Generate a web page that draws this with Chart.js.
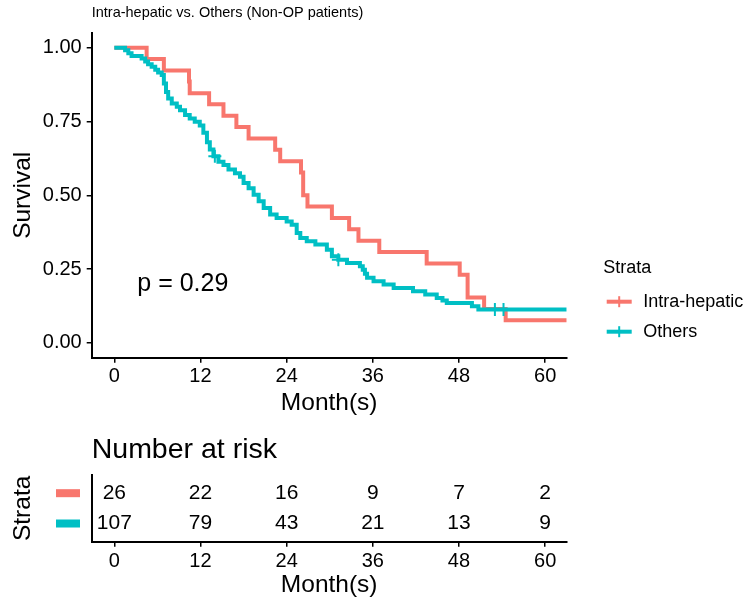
<!DOCTYPE html>
<html lang="en">
<head>
  <meta charset="UTF-8" />
  <title>Intra-hepatic vs. Others (Non-OP patients)</title>
  <style>
    html, body { margin: 0; padding: 0; background: #fff; }
    #wrap { position: relative; width: 750px; height: 606px; }
    #kmChart { position: absolute; left: 0; top: 0; }
    #riskChart { position: absolute; left: 0; top: 420px; }
  </style>
</head>
<body>
  <div id="wrap">
    <canvas id="kmChart" width="750" height="420" style="width:750px;height:420px"></canvas>
    <canvas id="riskChart" width="750" height="186" style="width:750px;height:186px"></canvas>
  </div>

  <script src="https://cdn.jsdelivr.net/npm/chart.js"></script>

  <script>
    const chartTitle = 'Intra-hepatic vs. Others (Non-OP patients)';
    const strataNames = ['Intra-hepatic', 'Others'];
    const strataColors = ['#F8766D', '#00BFC4'];

    const monthTicks = [0, 12, 24, 36, 48, 60];
    const survivalTicks = [0, 0.25, 0.5, 0.75, 1];

    // Kaplan-Meier steps (time in months, survival after the step)
    const intraTime = [0, 4.5, 6.9, 10.4, 10.5, 13.2, 15.2, 17.0, 18.7, 22.4, 23.1, 26.0, 26.3, 26.9, 30.3, 32.7, 34.0, 36.9, 43.5, 48.1, 49.2, 51.5, 54.5, 63];
    const intraSurv = [1, 0.962, 0.923, 0.885, 0.846, 0.808, 0.769, 0.731, 0.692, 0.654, 0.615, 0.577, 0.500, 0.462, 0.423, 0.385, 0.346, 0.308, 0.269, 0.231, 0.154, 0.115, 0.077, 0.077];

    const othersTime = [0, 1.5, 1.95, 2.4, 3.8, 4.3, 4.7, 5.2, 5.7, 6.1, 6.6, 6.9, 7.2, 7.5, 8.0, 8.7, 9.15, 9.85, 10.5, 11.2, 11.9, 12.4, 12.9, 13.3, 13.8, 14.5, 15.2, 15.9, 16.8, 17.5, 18.0, 18.7, 19.4, 20.1, 20.8, 21.7, 22.6, 24.0, 24.7, 25.4, 25.9, 26.8, 28.0, 29.6, 30.3, 31.2, 32.4, 34.2, 34.6, 34.9, 35.2, 36.1, 37.5, 38.9, 41.6, 43.3, 44.9, 45.7, 46.3, 49.8, 50.7, 63];
    const othersSurv = [1, 0.991, 0.981, 0.972, 0.963, 0.953, 0.944, 0.935, 0.925, 0.916, 0.907, 0.879, 0.850, 0.828, 0.811, 0.800, 0.788, 0.772, 0.760, 0.749, 0.736, 0.712, 0.680, 0.655, 0.632, 0.614, 0.603, 0.587, 0.575, 0.563, 0.542, 0.524, 0.502, 0.480, 0.457, 0.435, 0.423, 0.411, 0.400, 0.372, 0.355, 0.344, 0.333, 0.316, 0.294, 0.282, 0.271, 0.260, 0.248, 0.234, 0.221, 0.209, 0.198, 0.186, 0.175, 0.164, 0.152, 0.144, 0.135, 0.124, 0.113, 0.113];

    // censored observations (Others)
    const othersCensorTime = [14.0, 31.2, 53.0, 54.2];
    const othersCensorSurv = [0.632, 0.282, 0.113, 0.113];

    const pText = 'p = 0.29';
    const pPos = [3.2, 0.2];

    // number at risk table
    const riskTimes = [0, 12, 24, 36, 48, 60];
    const riskIntra = [26, 22, 16, 9, 7, 2];
    const riskOthers = [107, 79, 43, 21, 13, 9];

    const FONT = '"Liberation Sans", Arial, Helvetica, sans-serif';
    Chart.defaults.font.family = FONT;
    Chart.defaults.color = '#000';

    function toPoints(xs, ys) {
      return xs.map((x, i) => ({ x: x, y: ys[i] }));
    }

    function xAxis(height, tickPad, titlePad) {
      return {
        type: 'linear',
        min: -3.15,
        max: 63,
        bounds: 'data',
        afterBuildTicks: s => { s.ticks = monthTicks.map(v => ({ value: v })); },
        afterFit: s => { s.height = height; },
        grid: { drawOnChartArea: false, drawTicks: true, tickLength: 5, color: '#000', lineWidth: 1.5 },
        border: { display: true, color: '#000', width: 2 },
        ticks: { font: { size: 20 }, color: '#000', padding: tickPad, maxRotation: 0, autoSkip: false },
        title: { display: true, text: 'Month(s)', font: { size: 24.5 }, color: '#000', padding: { top: 0, bottom: titlePad } }
      };
    }

    const pvalPlugin = {
      id: 'pval',
      afterDatasetsDraw(chart) {
        const { ctx, scales: { x, y } } = chart;
        ctx.save();
        ctx.font = '25px ' + FONT;
        ctx.fillStyle = '#000';
        ctx.textAlign = 'left';
        ctx.textBaseline = 'middle';
        ctx.fillText(pText, x.getPixelForValue(pPos[0]), y.getPixelForValue(pPos[1]));
        ctx.restore();
      }
    };

    const strataLegend = {
      id: 'strataLegend',
      afterDraw(chart) {
        const ctx = chart.ctx;
        const left = chart.chartArea.right + 36.5;
        ctx.save();
        ctx.fillStyle = '#000';
        ctx.textBaseline = 'middle';
        ctx.textAlign = 'left';
        ctx.font = '18px ' + FONT;
        ctx.fillText('Strata', left, 268);
        strataNames.forEach((name, i) => {
          const y = 301.7 + i * 30;
          ctx.strokeStyle = strataColors[i];
          ctx.lineWidth = 4;
          ctx.beginPath();
          ctx.moveTo(left + 3.5, y);
          ctx.lineTo(left + 28.5, y);
          ctx.stroke();
          ctx.lineWidth = 2;
          ctx.beginPath();
          ctx.moveTo(left + 16, y - 5.5);
          ctx.lineTo(left + 16, y + 5.5);
          ctx.stroke();
          ctx.fillStyle = '#000';
          ctx.fillText(name, left + 40, y);
        });
        ctx.restore();
      }
    };

    new Chart(document.getElementById('kmChart'), {
      type: 'line',
      data: {
        datasets: [
          {
            label: 'Others (censored)',
            type: 'scatter',
            data: toPoints(othersCensorTime, othersCensorSurv),
            showLine: false,
            pointStyle: 'cross',
            pointRadius: 6.5,
            borderColor: strataColors[1],
            borderWidth: 2
          },
          {
            label: strataNames[1],
            data: toPoints(othersTime, othersSurv),
            stepped: true,
            borderColor: strataColors[1],
            borderWidth: 4,
            pointRadius: 0,
            fill: false
          },
          {
            label: strataNames[0],
            data: toPoints(intraTime, intraSurv),
            stepped: true,
            borderColor: strataColors[0],
            borderWidth: 4,
            pointRadius: 0,
            fill: false
          }
        ]
      },
      options: {
        responsive: false,
        animation: false,
        layout: { padding: { left: 0, right: 183.3, top: 0, bottom: 0 } },
        plugins: {
          legend: { display: false },
          tooltip: { enabled: false },
          title: {
            display: true,
            text: chartTitle,
            align: 'start',
            fullSize: false,
            color: '#000',
            font: { size: 14.5, weight: 'normal' },
            padding: { top: 4.6, bottom: 10.9 }
          }
        },
        scales: {
          x: xAxis(62.3, 2, 2),
          y: {
            min: -0.05,
            max: 1.05,
            bounds: 'data',
            afterBuildTicks: s => { s.ticks = survivalTicks.map(v => ({ value: v })); },
            afterFit: s => { s.width = 91.7; },
            grid: { drawOnChartArea: false, drawTicks: true, tickLength: 5, color: '#000', lineWidth: 1.5 },
            border: { display: true, color: '#000', width: 2 },
            ticks: { font: { size: 20 }, color: '#000', padding: 5, callback: v => v.toFixed(2) },
            title: { display: true, text: 'Survival', font: { size: 24.5 }, color: '#000', padding: { top: 8.6, bottom: 0 } }
          }
        }
      },
      plugins: [pvalPlugin, strataLegend]
    });

    // risk table: numbers sit on invisible points placed by the scales
    const riskLabels = {
      id: 'riskLabels',
      afterDatasetsDraw(chart) {
        const { ctx, chartArea, scales: { y } } = chart;
        const counts = [riskIntra, riskOthers];
        ctx.save();
        ctx.font = '21px ' + FONT;
        ctx.fillStyle = '#000';
        ctx.textAlign = 'center';
        ctx.textBaseline = 'middle';
        chart.data.datasets.forEach((ds, d) => {
          chart.getDatasetMeta(d).data.forEach((pt, i) => {
            ctx.fillText(String(counts[d][i]), pt.x, pt.y);
          });
        });
        // coloured strata keys in place of y labels
        strataColors.forEach((c, i) => {
          const yy = y.getPixelForValue(i + 1);
          ctx.fillStyle = c;
          ctx.fillRect(chartArea.left - 35.7, yy - 4, 24, 8);
        });
        ctx.restore();
      }
    };

    new Chart(document.getElementById('riskChart'), {
      type: 'scatter',
      data: {
        datasets: [
          { label: strataNames[0], data: riskTimes.map(t => ({ x: t, y: 1 })), pointRadius: 0 },
          { label: strataNames[1], data: riskTimes.map(t => ({ x: t, y: 2 })), pointRadius: 0 }
        ]
      },
      options: {
        responsive: false,
        animation: false,
        layout: { padding: { left: 0, right: 183.3, top: 0, bottom: 0 } },
        plugins: {
          legend: { display: false },
          tooltip: { enabled: false },
          title: {
            display: true,
            text: 'Number at risk',
            align: 'start',
            fullSize: false,
            color: '#000',
            font: { size: 28.5, weight: 'normal' },
            padding: { top: 12.9, bottom: 7.9 }
          }
        },
        scales: {
          x: xAxis(64.3, 3, 6.3),
          y: {
            type: 'linear',
            min: 0.4,
            max: 2.6,
            reverse: true,
            bounds: 'data',
            afterBuildTicks: s => { s.ticks = [1, 2].map(v => ({ value: v })); },
            afterFit: s => { s.width = 91.7; },
            grid: { drawOnChartArea: false, drawTicks: false },
            border: { display: true, color: '#000', width: 2 },
            ticks: { display: false },
            title: { display: true, text: 'Strata', font: { size: 24.5 }, color: '#000', padding: { top: 8.6, bottom: 0 } }
          }
        }
      },
      plugins: [riskLabels]
    });
  </script>
</body>
</html>
